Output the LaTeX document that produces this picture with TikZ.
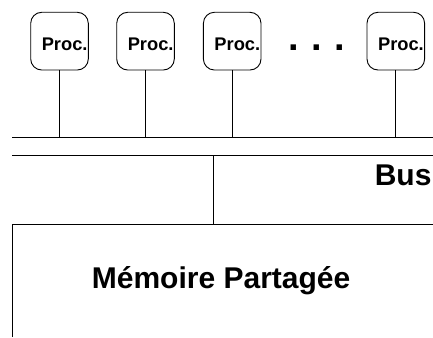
\documentclass[tikz,border=0pt]{standalone}
\usepackage{fontspec}
\setmainfont{Liberation Sans}
\begin{document}
\begin{tikzpicture}[x=1pt,y=-1pt,
  procbox/.style={draw, line width=0.9pt, rounded corners=11pt, minimum width=57.6pt, minimum height=57.7pt, inner sep=0pt},
  proclabel/.style={anchor=base west, inner sep=0pt, font=\fontsize{18.3}{20}\selectfont\bfseries},
  wire/.style={line width=0.9pt},
  biglabel/.style={inner sep=0pt, font=\fontsize{30}{34}\selectfont\bfseries}]
\useasboundingbox (0,0) rectangle (433,337);
% processors
\foreach \i/\x in {1/59.5,2/145.5,3/232.2,4/395.8}{
  \node[procbox] (p\i) at (\x,41.15) {};
  \node[proclabel] (t\i) at ([xshift=11.3pt]p\i.west |- 0,50.7) {Proc.};
  \coordinate (b\i) at (\x,137);
}
\node[anchor=base, inner sep=0pt, font=\fontsize{38}{40}\selectfont\bfseries] (dots) at (316.5,50.7) {.\,\,.\,\,.};
% bus lines
\coordinate (bl1) at (12,137);
\coordinate (br1) at (433,137);
\coordinate (bl2) at (12,155);
\coordinate (br2) at (433,155);
\coordinate (bm) at (213,155);
\coordinate (mt) at (213,224);
\coordinate (ml) at (12,224);
\coordinate (mr) at (433,224);
\coordinate (mb) at (12,337);
\draw[wire] (bl1) -- (br1);
\draw[wire] (bl2) -- (br2);
\foreach \i in {1,2,3,4}{ \draw[wire] (p\i.south) -- (b\i); }
\draw[wire] (bm) -- (mt);
\draw[wire] (mb) -- (ml) -- (mr);
\node[biglabel, anchor=base east] (bus) at (431.7,185.7) {Bus};
\node[biglabel, anchor=base west] (mem) at (91.7,288.3) {Mémoire Partagée};
\end{tikzpicture}
\end{document}
